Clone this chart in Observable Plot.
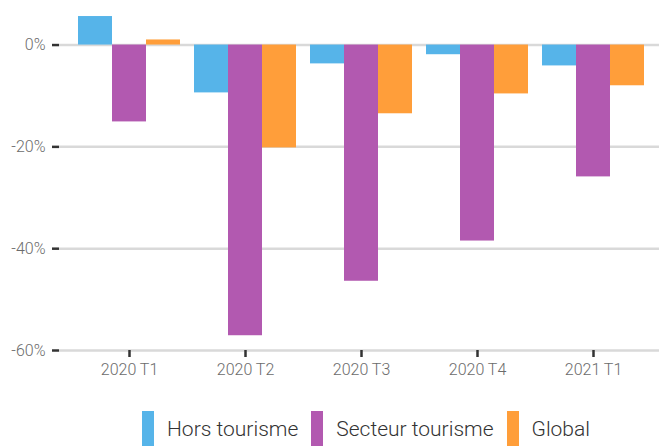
<!DOCTYPE html>
<html>
<head>
<meta charset="utf-8">
<script src="https://cdn.jsdelivr.net/npm/d3@7"></script>
<script src="https://cdn.jsdelivr.net/npm/@observablehq/plot@0.6"></script>
<style>
  body { margin: 0; background: #fff; font-family: Roboto, sans-serif; }
  #chart { position: relative; width: 659px; height: 390px; }
  #chart svg { position: absolute; left: 0; top: 0; background: transparent; }
  #legend { display: flex; align-items: center; margin-top: 21px; padding-left: 142px;
            font-family: Roboto, sans-serif; font-weight: 300; font-size: 21px; color: #333; }
  #legend .sw { width: 12px; height: 35px; margin-right: 13px; }
  #legend .lb { margin-right: 13px; }
</style>
</head>
<body>
<div id="chart"></div>
<div id="legend"></div>
<script>
const quarters = ["2020 T1", "2020 T2", "2020 T3", "2020 T4", "2021 T1"];
const series = ["Hors tourisme", "Secteur tourisme", "Global"];
const horsTourisme = [5.6, -9.4, -3.7, -1.9, -4.1];
const secteurTourisme = [-15.1, -57.1, -46.4, -38.5, -25.9];
const globalValues = [1.0, -20.2, -13.5, -9.6, -8.0];
const yTicks = [0, -20, -40, -60];
const colors = ["#56B4E9", "#B259B0", "#FF9E3A"];

const seriesValues = [horsTourisme, secteurTourisme, globalValues];
const data = [];
quarters.forEach((q, i) => {
  series.forEach((s, j) => data.push({quarter: q, series: s, value: seriesValues[j][i]}));
});

const common = {
  width: 659, height: 390, marginTop: 14, marginBottom: 40,
  style: {fontFamily: "Roboto, sans-serif", fontWeight: 300, fontSize: "16px", background: "transparent"}
};

const back = Plot.plot({
  ...common,
  marginLeft: 59, marginRight: 0,
  y: {domain: [-60, 6]},
  marks: [
    Plot.gridY(yTicks, {stroke: "#d9d9d9", strokeOpacity: 1, strokeWidth: 2.5}),
    Plot.axisY(yTicks, {tickSize: 7, tickPadding: 7, tickFormat: d => d + "%", stroke: "#333", strokeWidth: 2.5, fill: "#6b6b6b", label: null, fontSize: 16})
  ]
});

const front = Plot.plot({
  ...common,
  marginLeft: 71, marginRight: 8,
  fx: {domain: quarters, padding: 0, label: null},
  x: {domain: series, paddingInner: 0, paddingOuter: 0.17, axis: null},
  y: {domain: [-60, 6], axis: null},
  color: {domain: series, range: colors},
  marks: [
    Plot.barY(data, {fx: "quarter", x: "series", y1: 0, y2: "value", fill: "series"}),
    Plot.axisFx({anchor: "bottom", tickSize: 7, tickPadding: 6, stroke: "#333", strokeWidth: 2.5, fill: "#6b6b6b", label: null, fontSize: 16})
  ]
});

const chart = document.getElementById("chart");
chart.appendChild(back);
chart.appendChild(front);

const legend = document.getElementById("legend");
series.forEach((s, i) => {
  const sw = document.createElement("div");
  sw.className = "sw";
  sw.style.background = colors[i];
  const lb = document.createElement("div");
  lb.className = "lb";
  lb.textContent = s;
  legend.appendChild(sw);
  legend.appendChild(lb);
});
</script>
</body>
</html>
